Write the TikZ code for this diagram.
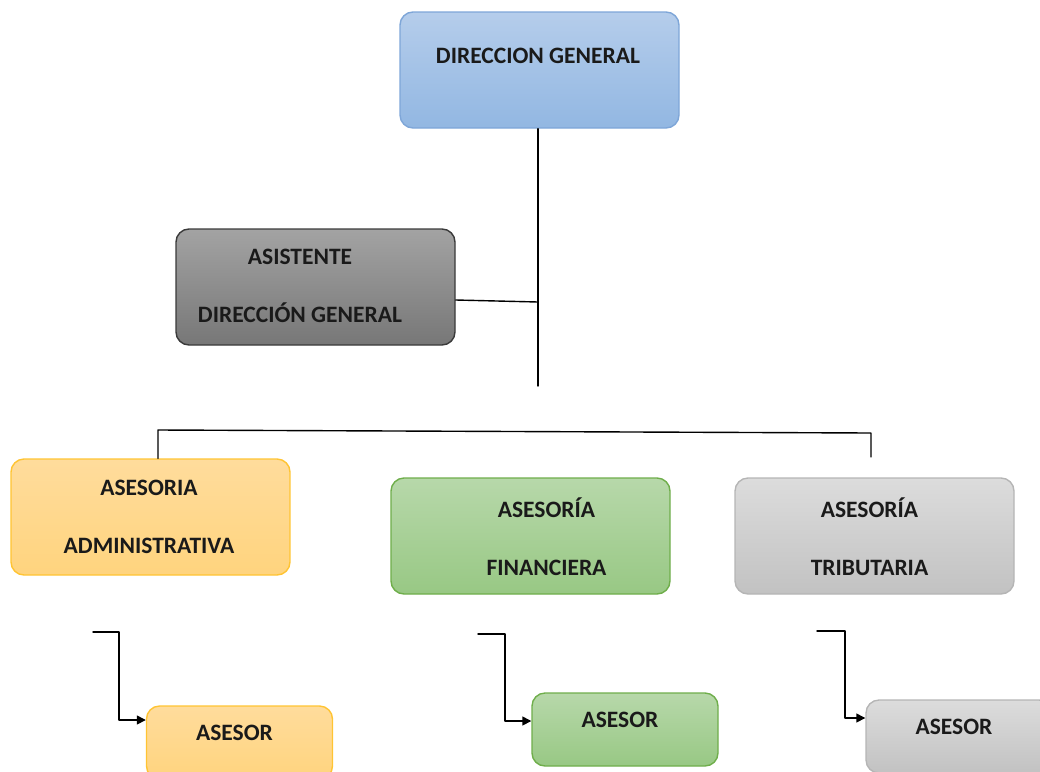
\documentclass[tikz,border=0pt]{standalone}
\usepackage{fontspec}
\setmainfont{Carlito}
\usetikzlibrary{arrows.meta}
\definecolor{dgA}{HTML}{B5CDEB}\definecolor{dgB}{HTML}{92B7E2}\definecolor{dgL}{HTML}{7EA6D8}
\definecolor{asA}{HTML}{A3A3A3}\definecolor{asB}{HTML}{777777}\definecolor{asL}{HTML}{3A3A3A}
\definecolor{orA}{HTML}{FFDC9C}\definecolor{orB}{HTML}{FFD47E}\definecolor{orL}{HTML}{FFC433}
\definecolor{veA}{HTML}{B7D8AA}\definecolor{veB}{HTML}{98C884}\definecolor{veL}{HTML}{6FAE4B}
\definecolor{grA}{HTML}{DCDCDC}\definecolor{grB}{HTML}{C2C2C2}\definecolor{grL}{HTML}{B5B5B5}
\definecolor{tinta}{HTML}{1A1A1A}
\tikzset{
	caja/.style={draw,rounded corners=13pt,line width=1.4pt,minimum width=279pt,minimum height=116pt},
	chica/.style={caja,minimum width=186pt,minimum height=73pt},
	txt/.style={align=center,inner sep=0pt,text=tinta,font=\bfseries\fontsize{23.5}{28}\selectfont}
}
\begin{document}
\begin{tikzpicture}[x=1pt,y=-1pt,>={Triangle[length=9pt,width=9pt]},line join=round,line cap=round,line width=1.4pt]
	\useasboundingbox (0,0) rectangle (1040,771);
	% cajas
	\node[caja,top color=dgA,bottom color=dgB,draw=dgL] (dg) at (539.5,70) {};
	\node[caja,top color=asA,bottom color=asB,draw=asL] (as) at (315.5,287) {};
	\node[caja,top color=orA,bottom color=orB,draw=orL] (adm) at (150.5,517) {};
	\node[caja,top color=veA,bottom color=veB,draw=veL] (fin) at (530.5,536) {};
	\node[caja,top color=grA,bottom color=grB,draw=grL] (trib) at (874.5,536) {};
	\node[chica,top color=orA,bottom color=orB,draw=orL] (as1) at (239.5,742.5) {};
	\node[chica,top color=veA,bottom color=veB,draw=veL] (as2) at (625,729.5) {};
	\node[chica,top color=grA,bottom color=grB,draw=grL] (as3) at (959,736.5) {};
	% textos
	\node[txt] (tdg) at (538,56) {DIRECCION GENERAL};
	\node[txt] (tas) at (300,285.5) {ASISTENTE\\[30pt]DIRECCIÓN GENERAL};
	\node[txt] (tadm) at (149,517) {ASESORIA\\[30pt]ADMINISTRATIVA};
	\node[txt] (tfin) at (546.5,537) {ASESORÍA\\[30pt]FINANCIERA};
	\node[txt] (ttrib) at (869.5,537) {ASESORÍA\\[30pt]TRIBUTARIA};
	\node[txt] (tas1) at (234.5,733) {ASESOR};
	\node[txt] (tas2) at (620,720) {ASESOR};
	\node[txt] (tas3) at (954,727) {ASESOR};
	% lineas
	\path 
	(538,386)coordinate(tronco)
	(538,302)coordinate(nudo)
	(158,430)coordinate(bi)
	(871,433)coordinate(bd)
	(93,632)coordinate(s1)
	(478,634)coordinate(s2)
	(817,631)coordinate(s3)
	;
	\draw (tronco |- dg.south)--(tronco);
	\draw ([yshift=-13pt]as.east)--(nudo);
	\draw (bi |- adm.north)--(bi)--(bd)--++(0,24);
	\draw[->] (s1)--++(26,0)|-([yshift=22.5pt]as1.west);
	\draw[->] (s2)--++(27,0)|-([yshift=8.5pt]as2.west);
	\draw[->] (s3)--++(28,0)|-([yshift=18.5pt]as3.west);
\end{tikzpicture}
\end{document}
